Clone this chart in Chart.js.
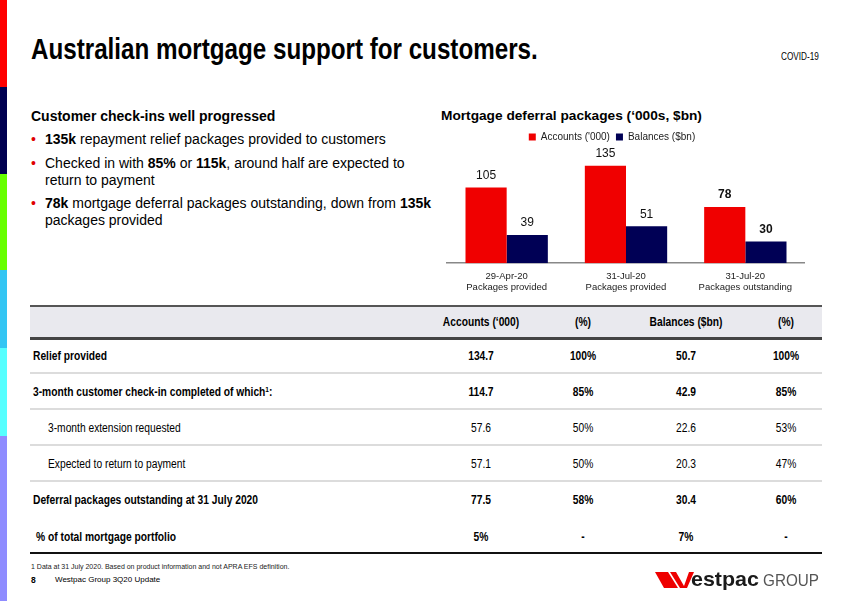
<!DOCTYPE html>
<html>
<head>
<meta charset="utf-8">
<script src="https://cdn.jsdelivr.net/npm/chart.js@4.4.0/dist/chart.umd.min.js"></script>
<style>
  html, body { margin:0; padding:0; }
  body { width:850px; height:601px; position:relative; overflow:hidden; background:#fff;
         font-family:"Liberation Sans", Arial, sans-serif; color:#000; }
  .abs { position:absolute; white-space:nowrap; }
  .narrowL { transform:scaleX(0.82); transform-origin:0 50%; }
  .stripe { position:absolute; left:0; width:7px; }
  .hl { position:absolute; left:30px; width:792px; }
  .cell { position:absolute; transform:translate(-50%,-50%) scaleX(0.82); white-space:nowrap; }
  .lab { position:absolute; transform:translateY(-50%); white-space:nowrap; }
  .labN { position:absolute; transform:translateY(-50%) scaleX(0.82); transform-origin:0 50%; white-space:nowrap; }
</style>
</head>
<body>
<!-- side stripes -->
<div class="stripe" style="top:0;height:87px;background:#ff0000"></div>
<div class="stripe" style="top:87px;height:87px;background:#000050"></div>
<div class="stripe" style="top:174px;height:96px;background:#66ff00"></div>
<div class="stripe" style="top:270px;height:78px;background:#33c5f3"></div>
<div class="stripe" style="top:348px;height:88px;background:#55ffff"></div>
<div class="stripe" style="top:436px;height:165px;background:#8f8cff"></div>

<div class="abs narrowL" style="left:31px;top:31px;font-size:29.5px;font-weight:bold;line-height:36px;">Australian mortgage support for customers.</div>
<div class="abs narrowL" style="left:781px;top:51px;font-size:10px;line-height:12px;">COVID-19</div>

<div class="abs" style="left:31px;top:107px;font-size:14px;font-weight:bold;line-height:18px;">Customer check-ins well progressed</div>
<div id="bullets"></div>

<div class="abs" style="left:441px;top:107px;font-size:13.7px;font-weight:bold;line-height:18px;">Mortgage deferral packages (‘000s, $bn)</div>

<canvas id="c" width="388" height="174" style="position:absolute;left:417px;top:126px;width:388px;height:174px;"></canvas>

<div id="table"></div>

<div class="hl" style="top:552px;height:2px;background:#111"></div>
<div class="abs" style="left:31px;top:562px;font-size:7px;line-height:10px;color:#222">1 Data at 31 July 2020. Based on product information and not APRA EFS definition.</div>
<div class="abs" style="left:31px;top:575px;font-size:8.5px;font-weight:bold;line-height:10px;">8</div>
<div class="abs" style="left:55px;top:575px;font-size:8px;line-height:10px;">Westpac Group 3Q20 Update</div>

<svg style="position:absolute;left:0;top:0" width="850" height="601">
  <polygon points="655,572 668,572 678,588 664,588" fill="#ee0000"/>
  <polygon points="670,572 676,572 684,586 689,572 694,572 687,588 680,588" fill="#ee0000"/>
  <text x="691" y="586" font-family="Liberation Sans, Arial, sans-serif" font-weight="bold" font-size="21" fill="#1a1a1a" textLength="68" lengthAdjust="spacingAndGlyphs">estpac</text>
  <text x="763" y="586" font-family="Liberation Sans, Arial, sans-serif" font-size="16.5" fill="#555" textLength="56" lengthAdjust="spacingAndGlyphs">GROUP</text>
</svg>

<script>
// ---------- data ----------
const categories = [
  ["29-Apr-20", "Packages provided"],
  ["31-Jul-20", "Packages provided"],
  ["31-Jul-20", "Packages outstanding"]
];
const accounts = [105, 135, 78];
const balances = [39, 51, 30];
const boldValueLabels = [false, false, true];
const seriesNames = ["Accounts ('000)", "Balances ($bn)"];

const bulletTexts = [
  ["<b>135k</b> repayment relief packages provided to customers"],
  ["Checked in with <b>85%</b> or <b>115k</b>, around half are expected to", "return to payment"],
  ["<b>78k</b> mortgage deferral packages outstanding, down from <b>135k</b>", "packages provided"]
];

const tableHeaders = ["Accounts (‘000)", "(%)", "Balances ($bn)", "(%)"];
const rowLabels = [
  "Relief provided",
  "3-month customer check-in completed of which<sup>1</sup>:",
  "3-month extension requested",
  "Expected to return to payment",
  "Deferral packages outstanding at 31 July 2020",
  "% of total mortgage portfolio"
];
const rowAccounts = ["134.7", "114.7", "57.6", "57.1", "77.5", "5%"];
const rowAccPct   = ["100%", "85%", "50%", "50%", "58%", "-"];
const rowBalances = ["50.7", "42.9", "22.6", "20.3", "30.4", "7%"];
const rowBalPct   = ["100%", "85%", "53%", "47%", "60%", "-"];
const rowBold     = [true, true, false, false, true, true];

// ---------- bullets ----------
(function(){
  const lineY = [[139],[163,180],[203,220]];
  let html = "";
  bulletTexts.forEach((lines, i) => {
    html += `<div class="lab" style="left:31px;top:${lineY[i][0]}px;font-size:14px;color:#e00000">•</div>`;
    lines.forEach((t, j) => {
      html += `<div class="lab" style="left:45px;top:${lineY[i][j]}px;font-size:14px;line-height:17px;">${t}</div>`;
    });
  });
  document.getElementById("bullets").innerHTML = html;
})();

// ---------- table ----------
(function(){
  const colX = [481, 583, 686, 786];
  const rowY = [356, 392, 428, 464, 500, 537];
  const labelX = [33, 33, 48, 48, 33, 36];
  let h = "";
  h += `<div class="hl" style="top:307px;height:31px;background:#e9e9ee"></div>`;
  h += `<div class="hl" style="top:305px;height:2px;background:#555"></div>`;
  h += `<div class="hl" style="top:337px;height:3px;background:#444"></div>`;
  tableHeaders.forEach((t, i) => {
    h += `<div class="cell" style="left:${colX[i]}px;top:322px;font-size:12.5px;font-weight:bold;">${t}</div>`;
  });
  [373, 409, 445, 481].forEach(y => {
    h += `<div class="hl" style="top:${y-1}px;height:2px;background:#dcdcdc"></div>`;
  });
  rowLabels.forEach((lab, r) => {
    const fw = rowBold[r] ? "bold" : "normal";
    h += `<div class="labN" style="left:${labelX[r]}px;top:${rowY[r]}px;font-size:12.5px;font-weight:${fw};">${lab.replace('<sup>1</sup>','<span style="font-size:8px;vertical-align:4px">1</span>')}</div>`;
    [rowAccounts, rowAccPct, rowBalances, rowBalPct].forEach((col, c) => {
      h += `<div class="cell" style="left:${colX[c]}px;top:${rowY[r]}px;font-size:12.5px;font-weight:${fw};">${col[r]}</div>`;
    });
  });
  document.getElementById("table").innerHTML = h;
})();

// ---------- chart ----------
const valueLabelPlugin = {
  id: "valueLabels",
  afterDatasetsDraw(chart) {
    const ctx = chart.ctx;
    ctx.save();
    ctx.textAlign = "center";
    ctx.textBaseline = "middle";
    ctx.fillStyle = "#111";
    chart.data.datasets.forEach((ds, di) => {
      const meta = chart.getDatasetMeta(di);
      meta.data.forEach((el, i) => {
        ctx.font = (boldValueLabels[i] ? "bold " : "") + "12px 'Liberation Sans', Arial, sans-serif";
        ctx.fillText(String(ds.data[i]), el.x, el.y - 12);
      });
    });
    ctx.restore();
  }
};

// shift the legend slightly left of the plot centre, as in the source slide
const legendShiftPlugin = {
  id: "legendShift",
  beforeDraw(chart) {
    if (chart.legend && !chart.legend._shifted) {
      chart.legend.left -= 14;
      chart.legend.right -= 14;
      chart.legend._shifted = true;
    }
  }
};

new Chart(document.getElementById("c"), {
  type: "bar",
  data: {
    labels: categories,
    datasets: [
      { label: seriesNames[0], data: accounts, backgroundColor: "#f00000", categoryPercentage: 0.69, barPercentage: 1.0 },
      { label: seriesNames[1], data: balances, backgroundColor: "#000055", categoryPercentage: 0.69, barPercentage: 1.0 }
    ]
  },
  options: {
    responsive: false,
    animation: false,
    devicePixelRatio: 1,
    layout: { padding: { left: 30, right: 0, top: 0, bottom: 0 } },
    plugins: {
      legend: {
        position: "top",
        align: "center",
        labels: {
          boxWidth: 7, boxHeight: 7, padding: 6,
          color: "#222",
          font: { family: "'Liberation Sans', Arial, sans-serif", size: 10 }
        }
      },
      tooltip: { enabled: false },
      title: { display: false }
    },
    scales: {
      x: {
        grid: { display: false, drawTicks: false },
        border: { display: true, color: "#888", width: 1.5 },
        ticks: { color: "#222", padding: 7, font: { family: "'Liberation Sans', Arial, sans-serif", size: 9.5 } }
      },
      y: { display: false, min: 0, max: 154 }
    }
  },
  plugins: [valueLabelPlugin, legendShiftPlugin]
});
</script>
</body>
</html>
